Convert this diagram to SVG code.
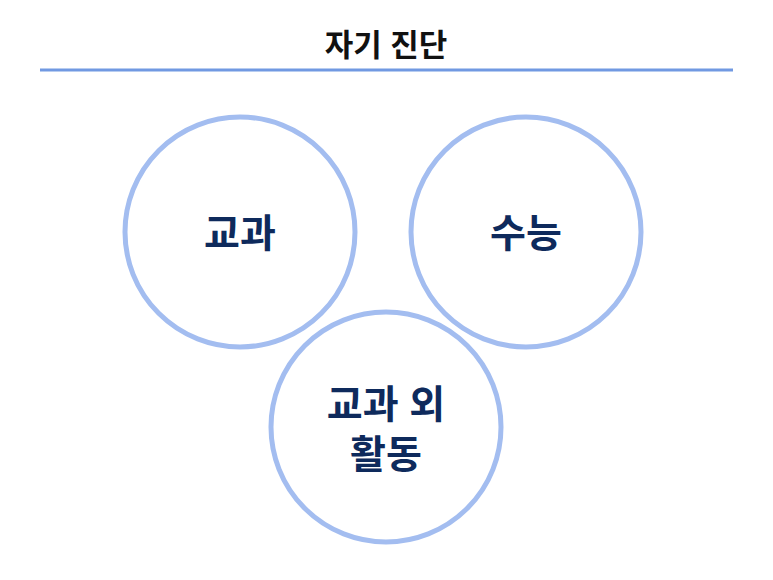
<svg xmlns="http://www.w3.org/2000/svg" width="773" height="580" viewBox="0 0 773 580">
<style>
.c{fill:#fff;stroke:#a3bdf0;stroke-width:5}
.t{font-family:"Liberation Sans","Noto Sans CJK KR",sans-serif;font-weight:bold;font-size:39px;fill:#0e2a5c;text-anchor:middle}
</style>
<rect width="773" height="580" fill="#fff"/>
<text x="386" y="56" font-family="Liberation Sans,'Noto Sans CJK KR',sans-serif" font-weight="bold" font-size="31" text-anchor="middle" fill="#111">자기 진단</text>
<g id="connectors"><line x1="40" y1="70" x2="733" y2="70" stroke="#7199e2" stroke-width="3"/></g>
<g id="n1"><circle class="c" cx="240" cy="232" r="115"/><text class="t" x="240" y="247">교과</text></g>
<g id="n2"><circle class="c" cx="526" cy="232" r="115"/><text class="t" x="526" y="247">수능</text></g>
<g id="n3"><circle class="c" cx="386" cy="427" r="115"/><text class="t" x="386" y="418">교과 외</text><text class="t" x="386" y="468">활동</text></g>
</svg>
